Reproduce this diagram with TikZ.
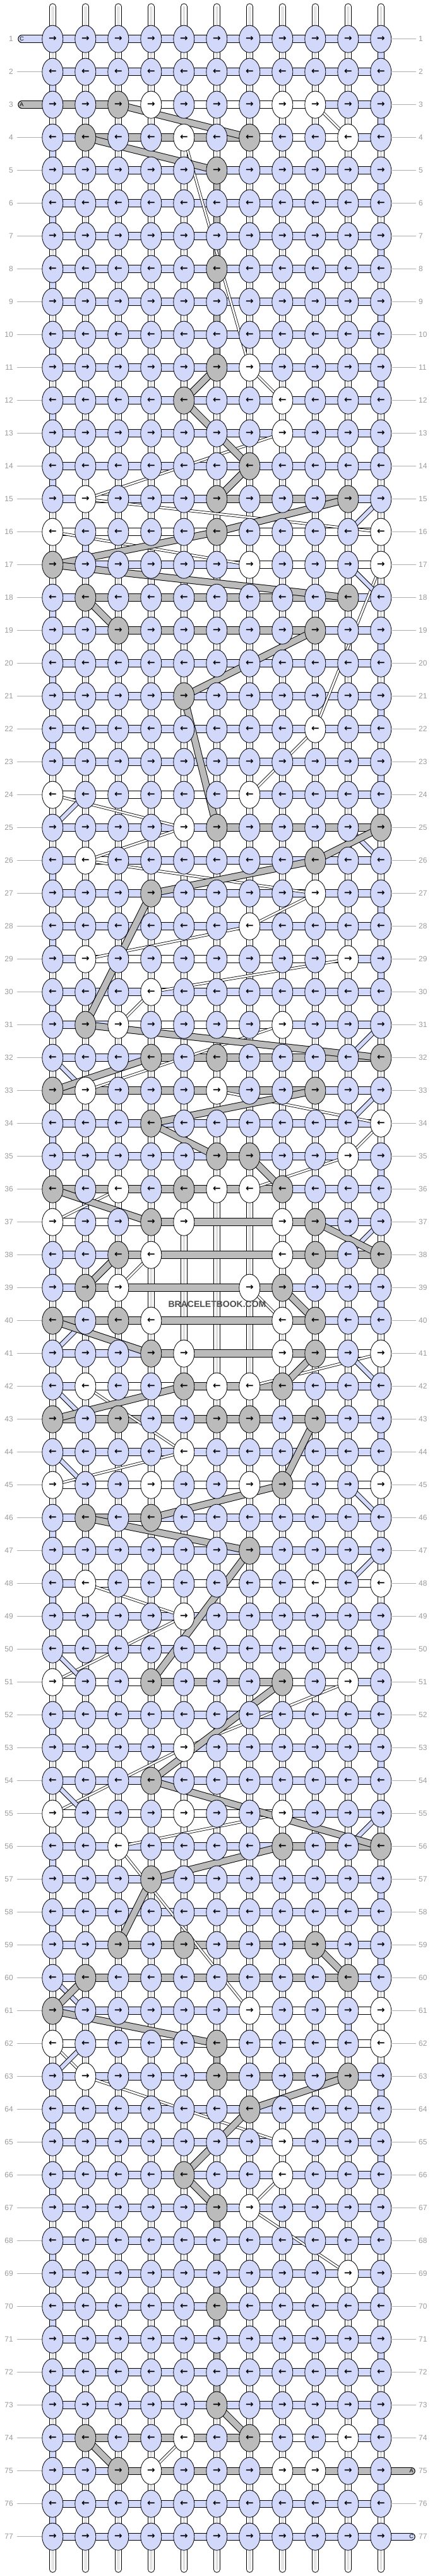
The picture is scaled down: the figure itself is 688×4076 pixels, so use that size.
\documentclass[tikz,border=0pt]{standalone}
\usepackage{fontspec}
\setmainfont{Liberation Sans}
\newfontfamily\arrfont{DejaVu Sans}
\usetikzlibrary{shapes.geometric}
\definecolor{cB}{RGB}{210,216,250}
\definecolor{cG}{RGB}{187,187,187}
\definecolor{cW}{RGB}{255,255,255}
\definecolor{cL}{RGB}{200,200,200}
\definecolor{cN}{RGB}{155,155,155}
\def\rowdata{%
1/{B,B,B,B,B,B,B,B,B,B,B}/{B,B,B,B,B,B,B,B,B,B},
2/{B,B,B,B,B,B,B,B,B,B,B}/{B,B,B,B,B,B,B,B,B,B},
3/{B,B,G,W,B,B,B,W,W,B,B}/{G,G,W,W,W,W,W,W,B,B},
4/{B,G,B,B,W,B,G,B,B,W,B}/{B,G,G,G,G,G,W,W,W,B},
5/{B,B,B,B,B,G,B,B,B,B,B}/{B,B,B,B,B,B,B,B,B,B},
6/{B,B,B,B,B,B,B,B,B,B,B}/{B,B,B,B,B,B,B,B,B,B},
7/{B,B,B,B,B,B,B,B,B,B,B}/{B,B,B,B,B,B,B,B,B,B},
8/{B,B,B,B,B,G,B,B,B,B,B}/{B,B,B,B,B,B,B,B,B,B},
9/{B,B,B,B,B,B,B,B,B,B,B}/{B,B,B,B,B,B,B,B,B,B},
10/{B,B,B,B,B,B,B,B,B,B,B}/{B,B,B,B,B,B,B,B,B,B},
11/{B,B,B,B,B,G,W,B,B,B,B}/{B,B,B,B,B,B,B,B,B,B},
12/{B,B,B,B,G,B,B,W,B,B,B}/{B,B,B,B,B,B,B,B,B,B},
13/{B,B,B,B,B,B,B,W,B,B,B}/{B,B,B,B,B,B,B,B,B,B},
14/{B,B,B,B,B,B,G,B,B,B,B}/{B,B,B,B,B,B,B,B,B,B},
15/{B,W,B,B,B,G,B,B,B,G,B}/{B,W,B,B,B,G,G,G,G,B},
16/{W,B,B,B,B,G,B,B,B,B,W}/{W,W,W,W,W,W,W,W,W,W},
17/{G,B,B,B,B,B,W,B,B,B,W}/{B,B,B,B,B,B,W,W,W,W},
18/{B,G,B,B,B,B,B,B,B,G,B}/{B,G,G,G,G,G,G,G,G,B},
19/{B,B,G,B,B,B,B,B,G,B,B}/{B,B,G,G,G,G,G,G,B,B},
20/{B,B,B,B,B,B,B,B,B,B,B}/{B,B,B,B,B,B,B,B,B,B},
21/{B,B,B,B,G,B,B,B,B,B,B}/{B,B,B,B,B,B,B,B,B,B},
22/{B,B,B,B,B,B,B,B,W,B,B}/{B,B,B,B,B,B,B,B,B,B},
23/{B,B,B,B,B,B,B,B,B,B,B}/{B,B,B,B,B,B,B,B,B,B},
24/{W,B,B,B,B,B,W,B,B,B,B}/{W,W,W,W,W,W,B,B,B,B},
25/{B,B,B,B,W,G,B,B,B,B,G}/{B,B,B,B,B,G,G,G,G,G},
26/{B,W,B,B,B,B,B,B,G,B,B}/{B,W,B,B,B,B,B,B,B,B},
27/{B,B,B,G,B,B,B,B,W,B,B}/{B,B,B,B,B,B,B,B,B,B},
28/{B,B,B,B,B,B,W,B,B,B,B}/{B,B,B,B,B,B,B,B,B,B},
29/{B,W,B,B,B,B,B,B,B,W,B}/{B,W,W,W,W,W,W,W,W,B},
30/{B,B,B,W,B,B,B,B,B,B,B}/{B,B,B,B,B,B,B,B,B,B},
31/{B,G,W,B,B,B,B,W,B,B,B}/{B,B,W,W,W,W,W,B,B,B},
32/{B,B,B,G,B,G,B,B,B,B,G}/{B,B,B,G,G,G,G,G,G,G},
33/{G,W,B,B,B,W,B,B,G,B,B}/{G,G,G,G,G,G,G,G,B,B},
34/{B,B,B,G,B,B,B,B,B,B,W}/{B,B,B,B,B,B,B,B,B,B},
35/{B,B,B,B,B,G,G,B,B,W,B}/{B,B,B,B,B,G,B,B,B,B},
36/{G,B,W,B,G,W,W,G,B,B,B}/{G,G,G,G,G,G,G,B,B,B},
37/{W,B,B,G,W,N,N,W,G,B,B}/{W,W,W,G,G,G,G,G,B,B},
38/{B,B,G,W,N,N,N,W,G,B,G}/{B,B,G,G,G,G,G,G,G,G},
39/{B,G,W,N,N,N,W,G,B,B,B}/{B,G,G,G,G,G,G,B,B,B},
40/{G,B,G,W,N,N,N,W,G,B,B}/{G,G,G,G,G,G,G,G,B,B},
41/{B,B,B,G,W,N,N,W,G,B,W}/{B,B,B,G,G,G,G,G,W,W},
42/{B,W,B,B,G,W,W,G,B,B,B}/{B,W,W,W,G,G,G,B,B,B},
43/{G,B,G,B,B,G,G,B,G,B,B}/{G,G,G,G,G,G,G,G,B,B},
44/{B,B,B,B,W,B,B,B,B,B,B}/{B,B,B,B,B,B,B,B,B,B},
45/{W,B,B,W,B,B,W,G,B,B,W}/{W,W,W,W,W,W,W,W,W,W},
46/{B,G,B,G,B,B,B,B,B,B,B}/{B,G,G,B,B,B,B,B,B,B},
47/{B,B,B,B,B,B,G,B,B,B,B}/{B,B,B,B,B,B,B,B,B,B},
48/{B,W,B,B,B,B,B,B,W,B,W}/{B,W,W,W,W,W,W,W,W,W},
49/{B,B,B,B,W,B,B,B,B,B,B}/{B,B,B,B,B,B,B,B,B,B},
50/{B,B,B,B,B,B,B,B,B,B,B}/{B,B,B,B,B,B,B,B,B,B},
51/{W,B,B,G,B,B,B,G,B,W,B}/{W,W,W,G,G,G,G,W,W,B},
52/{B,B,B,B,B,B,B,B,B,B,B}/{B,B,B,B,B,B,B,B,B,B},
53/{B,B,B,B,W,B,B,B,B,B,B}/{B,B,B,B,B,B,B,B,B,B},
54/{B,B,B,G,B,B,B,B,B,B,B}/{B,B,B,B,B,B,B,B,B,B},
55/{W,B,B,B,W,B,B,W,B,B,B}/{W,W,W,W,W,W,W,B,B,B},
56/{B,B,W,B,B,B,B,G,B,B,G}/{B,B,B,B,B,B,B,G,G,G},
57/{B,B,B,G,B,B,B,B,B,B,B}/{B,B,B,B,B,B,B,B,B,B},
58/{B,B,B,B,B,B,B,B,B,B,B}/{B,B,B,B,B,B,B,B,B,B},
59/{B,B,G,B,G,B,B,B,G,B,B}/{B,B,G,G,G,G,G,G,B,B},
60/{B,G,B,B,B,B,B,B,B,G,B}/{B,G,G,G,G,G,G,G,G,B},
61/{G,B,B,B,B,B,W,B,B,B,W}/{B,B,B,B,B,B,W,W,W,W},
62/{W,B,B,B,B,G,B,B,B,B,W}/{W,W,W,W,W,W,W,W,W,W},
63/{B,W,B,B,B,G,B,B,B,G,B}/{B,B,B,B,B,G,G,G,G,B},
64/{B,B,B,B,B,B,G,B,B,B,B}/{B,B,B,B,B,B,B,B,B,B},
65/{B,B,B,B,B,B,B,W,B,B,B}/{B,B,B,B,B,B,B,B,B,B},
66/{B,B,B,B,G,B,B,W,B,B,B}/{B,B,B,B,B,B,B,B,B,B},
67/{B,B,B,B,B,G,W,B,B,B,B}/{B,B,B,B,B,B,B,B,B,B},
68/{B,B,B,B,B,B,B,B,B,B,B}/{B,B,B,B,B,B,B,B,B,B},
69/{B,B,B,B,B,B,B,B,B,W,B}/{B,B,B,B,B,B,B,B,B,B},
70/{B,B,B,B,B,G,B,B,B,B,B}/{B,B,B,B,B,B,B,B,B,B},
71/{B,B,B,B,B,B,B,B,B,B,B}/{B,B,B,B,B,B,B,B,B,B},
72/{B,B,B,B,B,B,B,B,B,B,B}/{B,B,B,B,B,B,B,B,B,B},
73/{B,B,B,B,B,G,B,B,B,B,B}/{B,B,B,B,B,B,B,B,B,B},
74/{B,G,B,B,W,B,G,B,B,W,B}/{B,G,G,G,G,G,W,W,W,B},
75/{B,B,G,W,B,B,B,W,W,B,B}/{B,B,G,G,G,G,G,G,G,G},
76/{B,B,B,B,B,B,B,B,B,B,B}/{B,B,B,B,B,B,B,B,B,B},
77/{B,B,B,B,B,B,B,B,B,B,B}/{B,B,B,B,B,B,B,B,B,B}}
\begin{document}
\begin{tikzpicture}[x=1pt,y=-1pt,
  vstr/.style={line width=10.5pt,draw=black,line cap=round,
    postaction={draw=white,line width=8.5pt,line cap=round},
    postaction={draw=cL,line width=3.4pt,line cap=butt},
    postaction={draw=white,line width=1.2pt,line cap=butt}},
  vseg/.style={line width=10.5pt,draw=black,postaction={draw=#1,line width=8.5pt}},
  hseg/.style={line width=12.5pt,draw=black,postaction={draw=#1,line width=10.5pt}},
  tube/.style={line width=12.5pt,draw=black,line cap=round,postaction={draw=#1,line width=10.5pt,line cap=round}},
  gband/.style={line width=11.5pt,draw=black,postaction={draw=cG,line width=9.5pt}},
  bband/.style={line width=8pt,draw=black,postaction={draw=cB,line width=6pt}},
  wband/.style={line width=4.4pt,draw=black,postaction={draw=white,line width=2.8pt}},
  knot/.style={ellipse,draw=black,line width=0.8pt,minimum width=33pt,minimum height=43pt,inner sep=0pt,
    font=\arrfont\bfseries\fontsize{15}{15}\selectfont},
  lbl/.style={inner sep=0pt,text=cN,font=\fontsize{12}{12}\selectfont},
  lblline/.style={draw=cN!80,line width=0.8pt},
  tubetxt/.style={inner sep=0pt,font=\fontsize{9}{9}\selectfont}]
\useasboundingbox (0,0) rectangle (688,4076);
\fill[white] (0,0) rectangle (688,4076);
% grid coordinates
\foreach \ri in {1,...,77}{\foreach \ci in {1,...,11}{\coordinate (p-\ri-\ci) at ({31.3+52*\ci},{9.7+52*\ri});}}
\foreach \ci in {1,...,11}{\coordinate (t-\ci) at ({31.3+52*\ci},10.5);\coordinate (b-\ci) at ({31.3+52*\ci},4065.5);}
% vertical strands
\foreach \ci in {1,...,11}{\draw[vstr] (t-\ci) -- (b-\ci);}
% coloured vertical segments
\foreach \ri in {1,3,5,7,9,11,13,19,21,23,27,29,35,39,43,49,51,53,57,59,63,65,67,69,71,73,75}{\pgfmathtruncatemacro\rn{\ri+1}\draw[vseg=cB] (p-\ri-11) -- (p-\rn-11);}
\foreach \ri in {2,4,6,8,10,12,14,18,20,22,26,28,30,34,38,46,48,52,56,58,64,66,68,70,72,74,76}{\pgfmathtruncatemacro\rn{\ri+1}\draw[vseg=cB] (p-\ri-1) -- (p-\rn-1);}
\foreach \ri/\ci in {16/2,36/2,61/10}{\pgfmathtruncatemacro\rn{\ri+1}\draw[vseg=cB] (p-\ri-\ci) -- (p-\rn-\ci);}
\foreach \ri in {5,6,7,8,9,10,62,67,68,69,70,71,72}{\pgfmathtruncatemacro\rn{\ri+1}\draw[vseg=cG] (p-\ri-6) -- (p-\rn-6);}
% horizontal segments
\foreach \ri/\kl/\hl in \rowdata {
  \foreach \s [count=\ci] in \hl {
    \pgfmathtruncatemacro\cn{\ci+1}
    \draw[hseg=c\s] (p-\ri-\ci) -- (p-\ri-\cn);
  }
}
% end tubes
\coordinate (lt-1) at (34.5,61.7); \coordinate (lt-3) at (34.5,165.7);
\coordinate (rt-75) at (651.5,3857.7+52); \coordinate (rt-77) at (651.5,4013.7);
\draw[tube=cB] (lt-1) -- (p-1-1);
\draw[tube=cG] (lt-3) -- (p-3-1);
\draw[tube=cG] (p-75-11) -- (rt-75);
\draw[tube=cB] (p-77-11) -- (rt-77);
\node[tubetxt] (tl-1) at (lt-1) {C};
\node[tubetxt] (tl-3) at (lt-3) {A};
\node[tubetxt] (tr-75) at (rt-75) {A};
\node[tubetxt] (tr-77) at (rt-77) {C};
% white strands crossing
\foreach \a/\b/\c/\d in {3/9/4/10,4/5/11/7,11/7/12/8,13/8/15/2,15/2/16/11,16/1/17/7,17/11/22/9,22/9/24/7,24/1/25/5,25/5/26/2,26/2/27/9,27/9/28/7,28/7/29/2,29/10/30/4,30/4/31/3,31/8/33/2,33/6/34/11,34/11/35/10,35/10/36/7,36/3/37/1,38/4/39/3,39/7/40/8,41/11/42/7,42/2/44/5,44/5/45/1,48/2/49/5,49/5/51/1,51/10/53/5,53/5/55/1,55/8/56/3,56/3/61/7,62/1/63/2,63/2/65/8,66/8/67/7,67/7/69/10,74/5/75/4}
  {\draw[wband] (p-\a-\b) -- (p-\c-\d);}
% background string crossing
\foreach \a/\b/\c/\d in {15/11/16/10,17/10/18/11,24/2/25/1,25/10/26/11,31/11/32/10,32/1/33/2,33/11/34/10,37/11/38/10,40/2/41/1,41/10/42/11,42/1/43/2,44/1/45/2,45/10/46/11,47/11/48/10,50/1/51/2,54/1/55/2,55/11/56/10,60/1/61/2,62/2/63/1}
  {\draw[bband] (p-\a-\b) -- (p-\c-\d);}
% grey string crossing
\foreach \a/\b/\c/\d in {3/3/4/7,4/2/5/6,11/6/12/5,12/5/13/6,13/6/14/7,14/7/15/6,15/10/16/6,16/6/17/1,17/1/18/10,18/2/19/3,19/9/21/5,21/5/25/6,25/11/26/9,26/9/27/4,27/4/31/2,31/2/32/11,32/4/33/1,33/9/34/4,34/4/35/6,35/7/36/8,36/1/37/4,37/9/38/11,38/3/39/2,39/8/40/9,40/1/41/4,41/9/42/8,42/5/43/1,43/9/45/8,45/8/46/4,46/2/47/7,47/7/51/4,51/8/54/4,54/4/56/11,56/8/57/4,57/4/59/3,59/9/60/10,60/2/61/1,61/1/62/6,63/10/64/7,64/7/66/5,66/5/67/6,73/6/74/7,74/2/75/3}
  {\draw[gband] (p-\a-\b) -- (p-\c-\d);}
% knots
\foreach \ri/\kl/\hl in \rowdata {
  \foreach \s [count=\ci] in \kl {
    \if\s N\else
      \node[knot,fill=c\s] (k-\ri-\ci) at (p-\ri-\ci) {\ifodd\ri →\else ←\fi};
    \fi
  }
}
% row labels
\foreach \ri in {1,...,77}{
  \node[lbl,anchor=east] (ln-\ri) at (21,{9.7+52*\ri}) {\ri};
  \node[lbl,anchor=west] (rn-\ri) at (663,{9.7+52*\ri}) {\ri};
  \coordinate (la-\ri) at (27,{9.7+52*\ri}); \coordinate (lb-\ri) at (66,{9.7+52*\ri});
  \coordinate (ra-\ri) at (621,{9.7+52*\ri}); \coordinate (rb-\ri) at (659,{9.7+52*\ri});
}
\foreach \ri in {2,4,5,...,77}{\draw[lblline] (la-\ri) -- (lb-\ri);}
\foreach \ri in {1,...,74,76}{\draw[lblline] (ra-\ri) -- (rb-\ri);}
% watermark
\node[font=\bfseries\fontsize{14}{14}\selectfont,text=black!70] (wm) at (344,2063.7) {BRACELETBOOK.COM};
\end{tikzpicture}
\end{document}
